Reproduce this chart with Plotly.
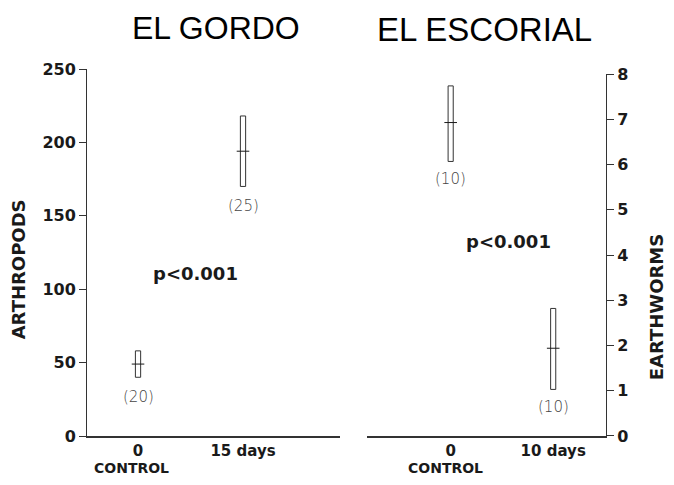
import plotly.graph_objects as go

# ---- data ----
sites = ["EL GORDO", "EL ESCORIAL"]
gordo_labels = ["0", "15 days"]
gordo_mean = [49, 194]
gordo_low = [40, 170]
gordo_high = [58, 218]
gordo_n = [20, 25]

escorial_labels = ["0", "10 days"]
escorial_mean = [6.93, 1.94]
escorial_low = [6.07, 1.03]
escorial_high = [7.74, 2.82]
escorial_n = [10, 10]

control_label = "CONTROL"
arth_ticks = [0, 50, 100, 150, 200, 250]
worm_ticks = [0, 1, 2, 3, 4, 5, 6, 7, 8]
pvalue_text = "p&lt;0.001"

# page body has an 8px margin, so the figure is sized to fit inside the window
W, H = 666, 469
BOLD = "DejaVu Sans"
INK = "#1a1a1a"

fig = go.Figure()

xpos = [0, 1]
fig.add_trace(go.Bar(x=xpos, y=[h - l for h, l in zip(gordo_high, gordo_low)], base=gordo_low,
                     width=0.05, marker=dict(color="white", line=dict(color="#333", width=1)),
                     xaxis="x", yaxis="y", showlegend=False, hoverinfo="skip"))
fig.add_trace(go.Scatter(x=xpos, y=gordo_mean, mode="markers",
                         marker=dict(symbol="line-ew", size=9, line=dict(color=INK, width=1)),
                         xaxis="x", yaxis="y", showlegend=False))
fig.add_trace(go.Bar(x=xpos, y=[h - l for h, l in zip(escorial_high, escorial_low)], base=escorial_low,
                     width=0.05, marker=dict(color="white", line=dict(color="#333", width=1)),
                     xaxis="x2", yaxis="y2", showlegend=False, hoverinfo="skip"))
fig.add_trace(go.Scatter(x=xpos, y=escorial_mean, mode="markers",
                         marker=dict(symbol="line-ew", size=9, line=dict(color=INK, width=1)),
                         xaxis="x2", yaxis="y2", showlegend=False))

ytickfont = dict(family=BOLD, size=16, color=INK, weight="bold")
xtickfont = dict(family=BOLD, size=15, color=INK, weight="bold")
ctlfont = dict(family=BOLD, size=14, color=INK, weight="bold")
nfont = dict(family="DejaVu Sans", size=15, color="#444", weight=300)
pfont = dict(family=BOLD, size=18, color=INK, weight="bold")

ann = []
for x, lo, n in zip(xpos, gordo_low, gordo_n):
    ann.append(dict(x=x, y=lo, xref="x", yref="y", text=f"({n})", showarrow=False,
                    xanchor="center", yanchor="middle", yshift=-20, font=nfont))
for x, lo, n in zip(xpos, escorial_low, escorial_n):
    ann.append(dict(x=x, y=lo, xref="x2", yref="y2", text=f"({n})", showarrow=False,
                    xanchor="center", yanchor="middle", yshift=-18, font=nfont))
# CONTROL sub-labels
ann.append(dict(x=-0.06, y=0, xref="x", yref="y", text=control_label, showarrow=False,
                xanchor="center", yanchor="middle", yshift=-32, font=ctlfont))
ann.append(dict(x=-0.05, y=0, xref="x2", yref="y2", text=control_label, showarrow=False,
                xanchor="center", yanchor="middle", yshift=-32, font=ctlfont))
# p-values
ann.append(dict(x=0.55, y=111, xref="x", yref="y", text=pvalue_text, showarrow=False,
                xanchor="center", yanchor="middle", font=pfont))
ann.append(dict(x=0.56, y=4.3, xref="x2", yref="y2", text=pvalue_text, showarrow=False,
                xanchor="center", yanchor="middle", font=pfont))
# titles
ann.append(dict(x=0.2486, y=1.111, xref="paper", yref="paper", text=sites[0], showarrow=False,
                xanchor="center", yanchor="middle",
                font=dict(family="Liberation Sans", size=32, color="black")))
ann.append(dict(x=0.766, y=1.108, xref="paper", yref="paper", text=sites[1], showarrow=False,
                xanchor="center", yanchor="middle",
                font=dict(family="Liberation Sans", size=33, color="black")))
# axis titles
ann.append(dict(x=-0.133, y=0.454, xref="paper", yref="paper", text="ARTHROPODS", showarrow=False,
                xanchor="center", yanchor="middle", textangle=-90, font=pfont))
ann.append(dict(x=1.098, y=0.353, xref="paper", yref="paper", text="EARTHWORMS", showarrow=False,
                xanchor="center", yanchor="middle", textangle=-90, font=pfont))

common_x = dict(tickfont=xtickfont, showline=True, linecolor="#333", linewidth=1.5,
                showgrid=False, zeroline=False, ticks="", automargin=False,
                ticklabelstandoff=0)
common_y = dict(tickfont=ytickfont, showline=True, linecolor="#333", linewidth=1,
                showgrid=False, zeroline=False, ticks="outside", ticklen=7,
                tickcolor="#333", tickwidth=1, automargin=False)

fig.update_layout(
    width=W, height=H,
    margin=dict(l=79, r=68, t=61, b=41),
    paper_bgcolor="white", plot_bgcolor="white",
    annotations=ann,
    xaxis=dict(domain=[0, 0.4875], range=[-0.486, 1.924], anchor="y",
               tickvals=xpos, ticktext=gordo_labels, **common_x),
    xaxis2=dict(domain=[0.5395, 1], range=[-0.816, 1.515], anchor="y2",
                tickvals=xpos, ticktext=escorial_labels, **common_x),
    yaxis=dict(domain=[0, 1], range=[0, 250], anchor="x",
               tickvals=arth_ticks, **common_y),
    yaxis2=dict(domain=[0, 0.986], range=[0, 8], anchor="x2", side="right",
                tickvals=worm_ticks, **common_y),
)

fig.write_html("out.html")
